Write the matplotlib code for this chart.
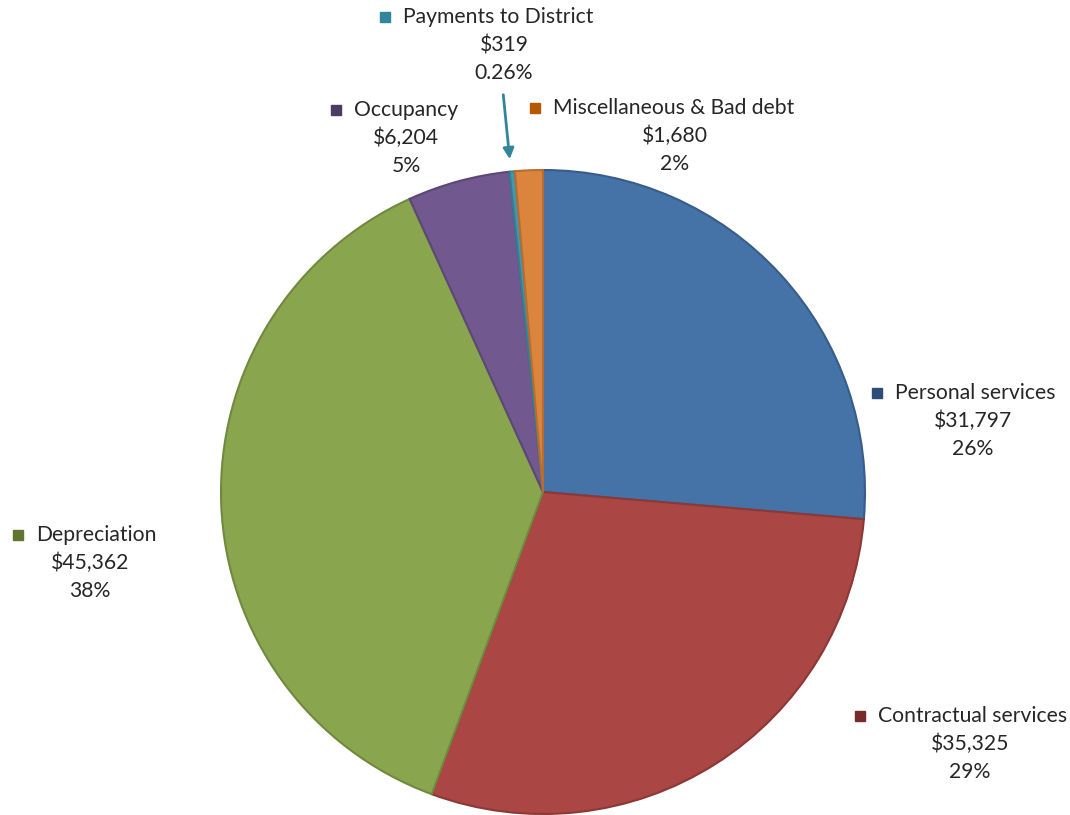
import matplotlib.pyplot as plt

# -------------------------------------------------------------------- #
# Data
# -------------------------------------------------------------------- #
categories = ["Personal services", "Contractual services", "Depreciation",
              "Occupancy", "Payments to District", "Miscellaneous & Bad debt"]
amounts = [31797, 35325, 45362, 6204, 319, 1680]
pct_labels = ["26%", "29%", "38%", "5%", "0.26%", "2%"]

slice_colors = ["#4572A7", "#AA4643", "#89A54E", "#71588F", "#4198AF", "#DB843D"]
edge_colors = ["#385d8a", "#8c3836", "#71893f", "#5c4776", "#357d90", "#b86d2e"]
key_colors = ["#2c4d75", "#772c2a", "#5f7530", "#4d3b62", "#31859c", "#b65708"]

# label layout in pixel coords (x of key, x centre of value lines, y of first line)
label_pos = [(877, 973, 393), (860, 970, 716), (18, 90, 535),
             (336, 406, 110), (385, 504, 17), (535, 675, 108)]

W, H = 1070, 815
fig = plt.figure(figsize=(W / 100, H / 100), dpi=100)
ax = fig.add_axes([0, 0, 1, 1])

wedges, _ = ax.pie(amounts, colors=slice_colors, startangle=90, counterclock=False,
                   center=(543, H - 492), radius=322, frame=True,
                   wedgeprops=dict(linewidth=1.5))
for w, ec in zip(wedges, edge_colors):
    w.set_edgecolor(ec)
ax.set_xlim(0, W)
ax.set_ylim(0, H)
ax.set_aspect("equal")
ax.axis("off")

font = dict(family=["Lato", "DejaVu Sans"], fontsize=15.2, color="#262626")
line_h = 28
for name, amt, pct, kc, (kx, cx, y0) in zip(categories, amounts, pct_labels,
                                            key_colors, label_pos):
    ax.plot(kx, H - y0, marker="s", markersize=7.5, color=kc, linestyle="none")
    ax.text(kx + 18, H - y0, name, ha="left", va="center", **font)
    ax.text(cx, H - y0 - line_h, f"${amt:,}", ha="center", va="center", **font)
    ax.text(cx, H - y0 - 2 * line_h, pct, ha="center", va="center", **font)

# arrow pointing at the thin Payments slice
ax.annotate("", xy=(510, H - 162), xytext=(503, H - 92),
            arrowprops=dict(arrowstyle="-|>", color="#31859c", lw=2,
                            mutation_scale=16))

fig.savefig("out.png", dpi=100)
